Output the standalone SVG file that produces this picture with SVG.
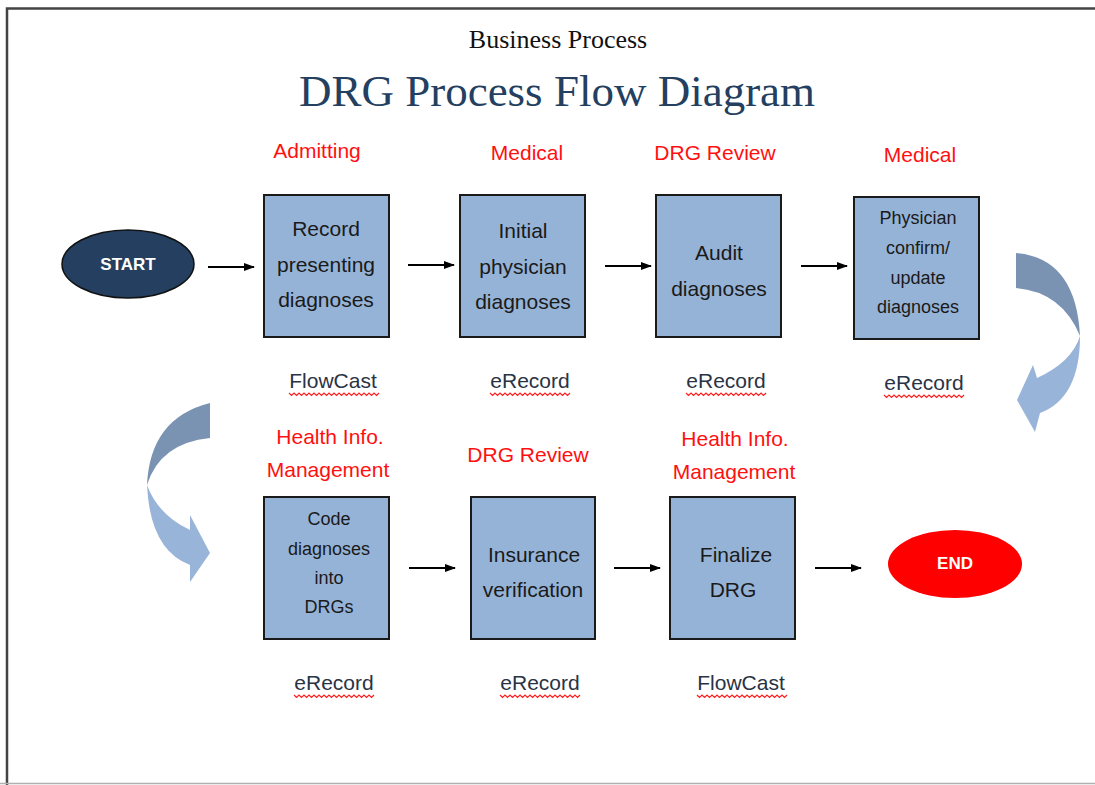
<svg xmlns="http://www.w3.org/2000/svg" width="1095" height="785" viewBox="0 0 1095 785">
<style>
.box{fill:#95B3D7;stroke:#1a1a1a;stroke-width:2}
.bt{font-family:"Liberation Sans",Arial,sans-serif;font-size:21px;fill:#1a1a1a;text-anchor:middle}
.bs{font-family:"Liberation Sans",Arial,sans-serif;font-size:18px;fill:#1a1a1a;text-anchor:middle}
.red{font-family:"Liberation Sans",Arial,sans-serif;font-size:21px;fill:#FF1010;text-anchor:middle}
.sys{font-family:"Liberation Sans",Arial,sans-serif;font-size:21px;fill:#2a3344;text-anchor:middle}
.term{font-family:"Liberation Sans",Arial,sans-serif;font-size:17px;font-weight:bold;fill:#ffffff;text-anchor:middle}
.conn{stroke:#000;stroke-width:2;fill:none;marker-end:url(#ah)}
.wave{stroke:#FF2020;stroke-width:1.2;fill:none}
.dark{fill:#7A93B3}
.light{fill:#98B5D9}
</style>
<defs>
<marker id="ah" markerWidth="11" markerHeight="10" refX="10" refY="5" orient="auto" markerUnits="userSpaceOnUse">
<path d="M0,1 L11,5 L0,9 Z" fill="#000"/>
</marker>
<path id="wv" d="M0,0 l2.5,2.5 l2.5,-2.5 l2.5,2.5 l2.5,-2.5 l2.5,2.5 l2.5,-2.5 l2.5,2.5 l2.5,-2.5 l2.5,2.5 l2.5,-2.5 l2.5,2.5 l2.5,-2.5 l2.5,2.5 l2.5,-2.5 l2.5,2.5 l2.5,-2.5 l2.5,2.5 l2.5,-2.5 l2.5,2.5 l2.5,-2.5 l2.5,2.5 l2.5,-2.5 l2.5,2.5 l2.5,-2.5 l2.5,2.5 l2.5,-2.5 l2.5,2.5 l2.5,-2.5 l2.5,2.5 l2.5,-2.5 l2.5,2.5 l2.5,-2.5" class="wave"/>
<path id="wv2" d="M0,0 l2.5,2.5 l2.5,-2.5 l2.5,2.5 l2.5,-2.5 l2.5,2.5 l2.5,-2.5 l2.5,2.5 l2.5,-2.5 l2.5,2.5 l2.5,-2.5 l2.5,2.5 l2.5,-2.5 l2.5,2.5 l2.5,-2.5 l2.5,2.5 l2.5,-2.5 l2.5,2.5 l2.5,-2.5 l2.5,2.5 l2.5,-2.5 l2.5,2.5 l2.5,-2.5 l2.5,2.5 l2.5,-2.5 l2.5,2.5 l2.5,-2.5 l2.5,2.5 l2.5,-2.5 l2.5,2.5 l2.5,-2.5 l2.5,2.5 l2.5,-2.5 l2.5,2.5 l2.5,-2.5 l2.5,2.5 l2.5,-2.5" class="wave"/>
</defs>
<rect width="1095" height="785" fill="#fff"/>
<path d="M7,785 L7,8.5 L1095,8.5" fill="none" stroke="#444" stroke-width="2.5"/>
<line x1="0" y1="783.5" x2="1095" y2="783.5" stroke="#b0b0b0" stroke-width="1.5"/>

<text x="558" y="48" font-family="Liberation Serif,'Times New Roman',serif" font-size="26" text-anchor="middle" fill="#111">Business Process</text>
<text x="557" y="106" font-family="Liberation Serif,'Times New Roman',serif" font-size="45" text-anchor="middle" fill="#243F60">DRG Process Flow Diagram</text>

<g id="labels">
<text class="red" x="317" y="158">Admitting</text>
<text class="red" x="527" y="160">Medical</text>
<text class="red" x="715" y="160">DRG Review</text>
<text class="red" x="920" y="162">Medical</text>
<text class="red" x="330" y="444">Health Info.</text>
<text class="red" x="328" y="477">Management</text>
<text class="red" x="528" y="462">DRG Review</text>
<text class="red" x="735" y="446">Health Info.</text>
<text class="red" x="734" y="479">Management</text>
<text class="sys" x="333" y="388">FlowCast</text>
<text class="sys" x="530" y="388">eRecord</text>
<text class="sys" x="726" y="388">eRecord</text>
<text class="sys" x="924" y="390">eRecord</text>
<text class="sys" x="334" y="690">eRecord</text>
<text class="sys" x="540" y="690">eRecord</text>
<text class="sys" x="741" y="690">FlowCast</text>
<use href="#wv2" x="289" y="393"/>
<use href="#wv" x="490" y="393"/>
<use href="#wv" x="686" y="393"/>
<use href="#wv" x="884" y="395"/>
<use href="#wv" x="294" y="695"/>
<use href="#wv" x="500" y="695"/>
<use href="#wv2" x="697" y="695"/>
</g>

<g id="start">
<ellipse cx="128" cy="264" rx="66" ry="34" fill="#243F60" stroke="#111" stroke-width="1.5"/>
<text class="term" x="128" y="270">START</text>
</g>
<g id="n1">
<rect class="box" x="264" y="195" width="125" height="142"/>
<text class="bt" x="326" y="236">Record</text>
<text class="bt" x="326" y="272">presenting</text>
<text class="bt" x="326" y="307">diagnoses</text>
</g>
<g id="n2">
<rect class="box" x="460" y="195" width="125" height="142"/>
<text class="bt" x="523" y="238">Initial</text>
<text class="bt" x="523" y="274">physician</text>
<text class="bt" x="523" y="309">diagnoses</text>
</g>
<g id="n3">
<rect class="box" x="656" y="195" width="125" height="142"/>
<text class="bt" x="719" y="260">Audit</text>
<text class="bt" x="719" y="296">diagnoses</text>
</g>
<g id="n4">
<rect class="box" x="854" y="197" width="125" height="142"/>
<text class="bs" x="918" y="224">Physician</text>
<text class="bs" x="918" y="254">confirm/</text>
<text class="bs" x="918" y="284">update</text>
<text class="bs" x="918" y="313">diagnoses</text>
</g>
<g id="n5">
<rect class="box" x="264" y="497" width="125" height="142"/>
<text class="bs" x="329" y="525">Code</text>
<text class="bs" x="329" y="555">diagnoses</text>
<text class="bs" x="329" y="584">into</text>
<text class="bs" x="329" y="613">DRGs</text>
</g>
<g id="n6">
<rect class="box" x="471" y="497" width="124" height="142"/>
<text class="bt" x="534" y="562">Insurance</text>
<text class="bt" x="533" y="597">verification</text>
</g>
<g id="n7">
<rect class="box" x="670" y="497" width="125" height="142"/>
<text class="bt" x="736" y="562">Finalize</text>
<text class="bt" x="733" y="597">DRG</text>
</g>
<g id="end">
<ellipse cx="955" cy="564" rx="67" ry="34" fill="#FF0000"/>
<text class="term" x="955" y="569">END</text>
</g>

<g id="connectors">
<line class="conn" x1="208" y1="267" x2="254" y2="267"/>
<line class="conn" x1="408" y1="265" x2="454" y2="265"/>
<line class="conn" x1="605" y1="266" x2="651" y2="266"/>
<line class="conn" x1="801" y1="266" x2="847" y2="266"/>
<line class="conn" x1="409" y1="568" x2="455" y2="568"/>
<line class="conn" x1="614" y1="568" x2="660" y2="568"/>
<line class="conn" x1="815" y1="568" x2="861" y2="568"/>
<g id="curve-right">
<path class="dark" d="M1016,253 Q1076,258 1080,336 Q1062,292 1016,288 Z"/>
<path class="light" d="M1080,336 Q1080,398 1040,413 L1035,432 L1017,400 L1033,365 L1037,378 Q1072,362 1080,336 Z"/>
</g>
<g id="curve-left">
<path class="dark" d="M210,403 Q150,418 147,485 Q160,443 210,438 Z"/>
<path class="light" d="M147,485 Q150,550 190,565 L190,582 L210,553 L190,515 L190,530 Q158,515 147,485 Z"/>
</g>
</g>
</svg>
